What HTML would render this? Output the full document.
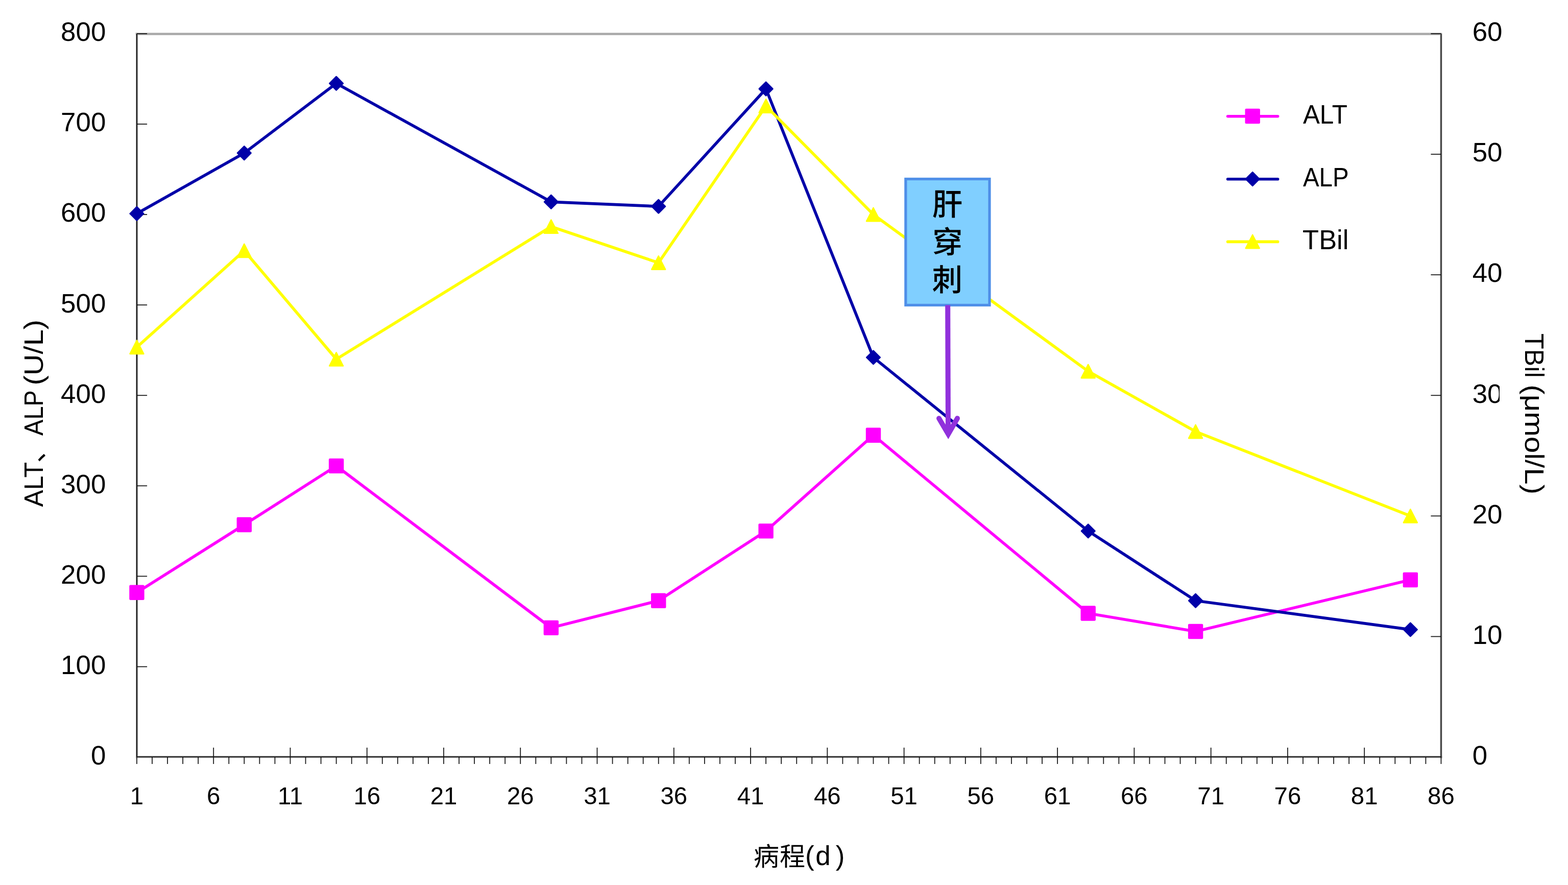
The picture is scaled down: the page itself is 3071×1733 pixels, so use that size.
<!DOCTYPE html>
<html lang="zh-CN">
<head>
<meta charset="utf-8">
<title>ALT、ALP、TBil 病程变化</title>
<style>
html,body{margin:0;padding:0;background:#fff;}
body{width:3071px;height:1733px;overflow:hidden;}
svg{display:block;}
text{font-family:"Liberation Sans","Noto Sans CJK SC",sans-serif;fill:#000;}
</style>
</head>
<body>
<svg width="3071" height="1733" viewBox="0 0 3071 1733">
<defs><clipPath id="clip30" clipPathUnits="userSpaceOnUse"><rect x="-50" y="-60" width="102.46" height="80"/></clipPath><clipPath id="clipR" clipPathUnits="userSpaceOnUse"><rect x="-20" y="-60" width="400" height="70.7"/></clipPath></defs>
<rect x="0" y="0" width="3071" height="1733" fill="#fff"/>
<!-- plot area border and axes -->
<g fill="none" stroke-linecap="square">
<path d="M268.1 66.45V1482.2H2822.4" stroke="#C2C2C2" stroke-width="5"/>
<path d="M268.1 66.45H2822.4V1482.2" stroke="#A9A9A9" stroke-width="4.5" stroke-linejoin="round"/>
</g>
<g stroke="#000" fill="none">
<line x1="268" y1="66.3" x2="268" y2="1483" stroke-width="1.9"/>
<line x1="267.1" y1="1482.1" x2="2823.2" y2="1482.1" stroke-width="1.7"/>
<line x1="2822.5" y1="66.3" x2="2822.5" y2="1483" stroke-width="1.5"/>
</g>
<g stroke="#151515" stroke-width="1.75" fill="none">
<line x1="268.1" y1="1305.5" x2="288.1" y2="1305.5"/>
<line x1="268.1" y1="1128.42" x2="288.1" y2="1128.42"/>
<line x1="268.1" y1="951.34" x2="288.1" y2="951.34"/>
<line x1="268.1" y1="774.26" x2="288.1" y2="774.26"/>
<line x1="268.1" y1="597.18" x2="288.1" y2="597.18"/>
<line x1="268.1" y1="420.1" x2="288.1" y2="420.1"/>
<line x1="268.1" y1="243.02" x2="288.1" y2="243.02"/>
<line x1="268.1" y1="65.94" x2="288.1" y2="65.94"/>
<line x1="2802.4" y1="1246.47" x2="2822.4" y2="1246.47"/>
<line x1="2802.4" y1="1010.37" x2="2822.4" y2="1010.37"/>
<line x1="2802.4" y1="774.26" x2="2822.4" y2="774.26"/>
<line x1="2802.4" y1="538.15" x2="2822.4" y2="538.15"/>
<line x1="2802.4" y1="302.05" x2="2822.4" y2="302.05"/>
<line x1="2802.4" y1="65.94" x2="2822.4" y2="65.94"/>
<line x1="267.95" y1="1482" x2="267.95" y2="1496"/>
<line x1="298" y1="1482" x2="298" y2="1496"/>
<line x1="328.06" y1="1482" x2="328.06" y2="1496"/>
<line x1="358.11" y1="1482" x2="358.11" y2="1496"/>
<line x1="388.16" y1="1482" x2="388.16" y2="1496"/>
<line x1="418.21" y1="1464" x2="418.21" y2="1496"/>
<line x1="448.27" y1="1482" x2="448.27" y2="1496"/>
<line x1="478.32" y1="1482" x2="478.32" y2="1496"/>
<line x1="508.37" y1="1482" x2="508.37" y2="1496"/>
<line x1="538.43" y1="1482" x2="538.43" y2="1496"/>
<line x1="568.48" y1="1464" x2="568.48" y2="1496"/>
<line x1="598.53" y1="1482" x2="598.53" y2="1496"/>
<line x1="628.59" y1="1482" x2="628.59" y2="1496"/>
<line x1="658.64" y1="1482" x2="658.64" y2="1496"/>
<line x1="688.69" y1="1482" x2="688.69" y2="1496"/>
<line x1="718.74" y1="1464" x2="718.74" y2="1496"/>
<line x1="748.8" y1="1482" x2="748.8" y2="1496"/>
<line x1="778.85" y1="1482" x2="778.85" y2="1496"/>
<line x1="808.9" y1="1482" x2="808.9" y2="1496"/>
<line x1="838.96" y1="1482" x2="838.96" y2="1496"/>
<line x1="869.01" y1="1464" x2="869.01" y2="1496"/>
<line x1="899.06" y1="1482" x2="899.06" y2="1496"/>
<line x1="929.11" y1="1482" x2="929.11" y2="1496"/>
<line x1="959.17" y1="1482" x2="959.17" y2="1496"/>
<line x1="989.22" y1="1482" x2="989.22" y2="1496"/>
<line x1="1019.27" y1="1464" x2="1019.27" y2="1496"/>
<line x1="1049.33" y1="1482" x2="1049.33" y2="1496"/>
<line x1="1079.38" y1="1482" x2="1079.38" y2="1496"/>
<line x1="1109.43" y1="1482" x2="1109.43" y2="1496"/>
<line x1="1139.49" y1="1482" x2="1139.49" y2="1496"/>
<line x1="1169.54" y1="1464" x2="1169.54" y2="1496"/>
<line x1="1199.59" y1="1482" x2="1199.59" y2="1496"/>
<line x1="1229.64" y1="1482" x2="1229.64" y2="1496"/>
<line x1="1259.7" y1="1482" x2="1259.7" y2="1496"/>
<line x1="1289.75" y1="1482" x2="1289.75" y2="1496"/>
<line x1="1319.8" y1="1464" x2="1319.8" y2="1496"/>
<line x1="1349.86" y1="1482" x2="1349.86" y2="1496"/>
<line x1="1379.91" y1="1482" x2="1379.91" y2="1496"/>
<line x1="1409.96" y1="1482" x2="1409.96" y2="1496"/>
<line x1="1440.01" y1="1482" x2="1440.01" y2="1496"/>
<line x1="1470.07" y1="1464" x2="1470.07" y2="1496"/>
<line x1="1500.12" y1="1482" x2="1500.12" y2="1496"/>
<line x1="1530.17" y1="1482" x2="1530.17" y2="1496"/>
<line x1="1560.23" y1="1482" x2="1560.23" y2="1496"/>
<line x1="1590.28" y1="1482" x2="1590.28" y2="1496"/>
<line x1="1620.33" y1="1464" x2="1620.33" y2="1496"/>
<line x1="1650.39" y1="1482" x2="1650.39" y2="1496"/>
<line x1="1680.44" y1="1482" x2="1680.44" y2="1496"/>
<line x1="1710.49" y1="1482" x2="1710.49" y2="1496"/>
<line x1="1740.54" y1="1482" x2="1740.54" y2="1496"/>
<line x1="1770.6" y1="1464" x2="1770.6" y2="1496"/>
<line x1="1800.65" y1="1482" x2="1800.65" y2="1496"/>
<line x1="1830.7" y1="1482" x2="1830.7" y2="1496"/>
<line x1="1860.76" y1="1482" x2="1860.76" y2="1496"/>
<line x1="1890.81" y1="1482" x2="1890.81" y2="1496"/>
<line x1="1920.86" y1="1464" x2="1920.86" y2="1496"/>
<line x1="1950.91" y1="1482" x2="1950.91" y2="1496"/>
<line x1="1980.97" y1="1482" x2="1980.97" y2="1496"/>
<line x1="2011.02" y1="1482" x2="2011.02" y2="1496"/>
<line x1="2041.07" y1="1482" x2="2041.07" y2="1496"/>
<line x1="2071.13" y1="1464" x2="2071.13" y2="1496"/>
<line x1="2101.18" y1="1482" x2="2101.18" y2="1496"/>
<line x1="2131.23" y1="1482" x2="2131.23" y2="1496"/>
<line x1="2161.29" y1="1482" x2="2161.29" y2="1496"/>
<line x1="2191.34" y1="1482" x2="2191.34" y2="1496"/>
<line x1="2221.39" y1="1464" x2="2221.39" y2="1496"/>
<line x1="2251.44" y1="1482" x2="2251.44" y2="1496"/>
<line x1="2281.5" y1="1482" x2="2281.5" y2="1496"/>
<line x1="2311.55" y1="1482" x2="2311.55" y2="1496"/>
<line x1="2341.6" y1="1482" x2="2341.6" y2="1496"/>
<line x1="2371.66" y1="1464" x2="2371.66" y2="1496"/>
<line x1="2401.71" y1="1482" x2="2401.71" y2="1496"/>
<line x1="2431.76" y1="1482" x2="2431.76" y2="1496"/>
<line x1="2461.81" y1="1482" x2="2461.81" y2="1496"/>
<line x1="2491.87" y1="1482" x2="2491.87" y2="1496"/>
<line x1="2521.92" y1="1464" x2="2521.92" y2="1496"/>
<line x1="2551.97" y1="1482" x2="2551.97" y2="1496"/>
<line x1="2582.03" y1="1482" x2="2582.03" y2="1496"/>
<line x1="2612.08" y1="1482" x2="2612.08" y2="1496"/>
<line x1="2642.13" y1="1482" x2="2642.13" y2="1496"/>
<line x1="2672.19" y1="1464" x2="2672.19" y2="1496"/>
<line x1="2702.24" y1="1482" x2="2702.24" y2="1496"/>
<line x1="2732.29" y1="1482" x2="2732.29" y2="1496"/>
<line x1="2762.34" y1="1482" x2="2762.34" y2="1496"/>
<line x1="2792.4" y1="1482" x2="2792.4" y2="1496"/>
<line x1="2822.45" y1="1482" x2="2822.45" y2="1496"/>
</g>
<!-- series ALT -->
<polyline fill="none" stroke="#FF00FF" stroke-width="5.7" stroke-linejoin="round" stroke-linecap="round" points="267.95,1160.29 478.32,1027.48 658.64,912.38 1079.38,1229.36 1289.75,1176.23 1500.12,1039.88 1710.49,852.18 2131.23,1201.02 2341.6,1236.44 2762.34,1135.5"/>
<g fill="#FF00FF" stroke="#FF00FF" stroke-linejoin="round">
<rect stroke="none" x="253.25" y="1145.59" width="29.4" height="29.4" rx="2.2" ry="2.2"/>
<rect stroke="none" x="463.62" y="1012.78" width="29.4" height="29.4" rx="2.2" ry="2.2"/>
<rect stroke="none" x="643.94" y="897.68" width="29.4" height="29.4" rx="2.2" ry="2.2"/>
<rect stroke="none" x="1064.68" y="1214.66" width="29.4" height="29.4" rx="2.2" ry="2.2"/>
<rect stroke="none" x="1275.05" y="1161.53" width="29.4" height="29.4" rx="2.2" ry="2.2"/>
<rect stroke="none" x="1485.42" y="1025.18" width="29.4" height="29.4" rx="2.2" ry="2.2"/>
<rect stroke="none" x="1695.79" y="837.48" width="29.4" height="29.4" rx="2.2" ry="2.2"/>
<rect stroke="none" x="2116.53" y="1186.32" width="29.4" height="29.4" rx="2.2" ry="2.2"/>
<rect stroke="none" x="2326.9" y="1221.74" width="29.4" height="29.4" rx="2.2" ry="2.2"/>
<rect stroke="none" x="2747.64" y="1120.8" width="29.4" height="29.4" rx="2.2" ry="2.2"/>
</g>
<!-- series ALP -->
<polyline fill="none" stroke="#0000A8" stroke-width="5.7" stroke-linejoin="round" stroke-linecap="round" points="267.95,418.33 478.32,299.69 658.64,163.33 1079.38,395.31 1289.75,404.16 1500.12,173.96 1710.49,699.89 2131.23,1039.88 2341.6,1176.23 2762.34,1232.9"/>
<g fill="#0000A8" stroke="#0000A8" stroke-linejoin="round">
<path stroke-width="2.6" d="M267.95 405.03L281.25 418.33L267.95 431.63L254.65 418.33Z"/>
<path stroke-width="2.6" d="M478.32 286.39L491.62 299.69L478.32 312.99L465.02 299.69Z"/>
<path stroke-width="2.6" d="M658.64 150.03L671.94 163.33L658.64 176.63L645.34 163.33Z"/>
<path stroke-width="2.6" d="M1079.38 382.01L1092.68 395.31L1079.38 408.61L1066.08 395.31Z"/>
<path stroke-width="2.6" d="M1289.75 390.86L1303.05 404.16L1289.75 417.46L1276.45 404.16Z"/>
<path stroke-width="2.6" d="M1500.12 160.66L1513.42 173.96L1500.12 187.26L1486.82 173.96Z"/>
<path stroke-width="2.6" d="M1710.49 686.59L1723.79 699.89L1710.49 713.19L1697.19 699.89Z"/>
<path stroke-width="2.6" d="M2131.23 1026.58L2144.53 1039.88L2131.23 1053.18L2117.93 1039.88Z"/>
<path stroke-width="2.6" d="M2341.6 1162.93L2354.9 1176.23L2341.6 1189.53L2328.3 1176.23Z"/>
<path stroke-width="2.6" d="M2762.34 1219.6L2775.64 1232.9L2762.34 1246.2L2749.04 1232.9Z"/>
</g>
<!-- series TBil -->
<polyline fill="none" stroke="#FFFF00" stroke-width="5.7" stroke-linejoin="round" stroke-linecap="round" points="267.95,679.82 478.32,490.93 658.64,703.43 1079.38,443.71 1289.75,514.54 1500.12,207.6 1710.49,420.1 2131.23,727.04 2341.6,845.09 2762.34,1010.37"/>
<g fill="#FFFF00" stroke="#FFFF00" stroke-linejoin="round">
<path stroke-width="2.6" d="M267.95 666.69L281.35 692.87L254.55 692.87Z"/>
<path stroke-width="2.6" d="M478.32 477.81L491.72 503.98L464.92 503.98Z"/>
<path stroke-width="2.6" d="M658.64 690.3L672.04 716.48L645.24 716.48Z"/>
<path stroke-width="2.6" d="M1079.38 430.59L1092.78 456.76L1065.98 456.76Z"/>
<path stroke-width="2.6" d="M1289.75 501.42L1303.15 527.59L1276.35 527.59Z"/>
<path stroke-width="2.6" d="M1500.12 194.48L1513.52 220.65L1486.72 220.65Z"/>
<path stroke-width="2.6" d="M1710.49 406.97L1723.89 433.15L1697.09 433.15Z"/>
<path stroke-width="2.6" d="M2131.23 713.91L2144.63 740.09L2117.83 740.09Z"/>
<path stroke-width="2.6" d="M2341.6 831.97L2355 858.14L2328.2 858.14Z"/>
<path stroke-width="2.6" d="M2762.34 997.24L2775.74 1023.42L2748.94 1023.42Z"/>
</g>
<!-- legend -->
<line x1="2404.6" y1="227.75" x2="2502.6" y2="227.75" stroke="#FF00FF" stroke-width="5.6" stroke-linecap="round"/>
<g fill="#FF00FF" stroke="#FF00FF" stroke-linejoin="round"><rect stroke="none" x="2438.5" y="212.75" width="29.4" height="29.4" rx="2.2" ry="2.2"/></g>
<text transform="translate(2551.9 242.2) scale(0.9501 0.9983)" font-size="52">ALT</text>
<line x1="2404.6" y1="350.8" x2="2502.6" y2="350.8" stroke="#0000A8" stroke-width="5.6" stroke-linecap="round"/>
<g fill="#0000A8" stroke="#0000A8" stroke-linejoin="round"><path stroke-width="2.6" d="M2453.2 337.2L2466.5 350.5L2453.2 363.8L2439.9 350.5Z"/></g>
<text transform="translate(2551.9 365) scale(0.9126 0.9983)" font-size="52">ALP</text>
<line x1="2404.6" y1="473.4" x2="2502.6" y2="473.4" stroke="#FFFF00" stroke-width="5.6" stroke-linecap="round"/>
<g fill="#FFFF00" stroke="#FFFF00" stroke-linejoin="round"><path stroke-width="2.6" d="M2453.2 459.98L2466.6 486.15L2439.8 486.15Z"/></g>
<text transform="translate(2551.08 488.3) scale(1.0092 1.0291)" font-size="52">TBil</text>
<!-- annotation -->
<rect x="1773.8" y="350.5" width="164.2" height="247" fill="#80CFFF" stroke="#4F8FE8" stroke-width="5.2"/>
<text font-size="59.5" font-weight="500"><tspan x="1825.8" y="420.9">肝</tspan><tspan x="1825.9" y="494.8">穿</tspan><tspan x="1825.4" y="568.9">刺</tspan></text>
<g stroke="#9131DC" fill="none"><line x1="1856.2" y1="597.6" x2="1857" y2="845" stroke-width="10"/><polyline points="1839,819.3 1857.2,850.1 1875,819.2" stroke-width="10" stroke-linecap="round" stroke-linejoin="miter" stroke-miterlimit="10"/></g>
<!-- tick labels -->
<g font-size="52">
<text transform="translate(177.91 1496.92) scale(1.017 1)">0</text>
<text transform="translate(119.08 1319.84) scale(1.017 1)">100</text>
<text transform="translate(119.08 1142.76) scale(1.017 1)">200</text>
<text transform="translate(119.08 965.68) scale(1.017 1)">300</text>
<text transform="translate(119.08 788.6) scale(1.017 1)">400</text>
<text transform="translate(119.08 611.52) scale(1.017 1)">500</text>
<text transform="translate(119.08 434.44) scale(1.017 1)">600</text>
<text transform="translate(119.08 257.36) scale(1.017 1)">700</text>
<text transform="translate(119.08 80.28) scale(1.017 1)">800</text>
<text transform="translate(2883.65 1496.92) scale(1.017 1)">0</text>
<text transform="translate(2883.65 1260.81) scale(1.017 1)">10</text>
<text transform="translate(2883.65 1024.7) scale(1.017 1)">20</text>
<text clip-path="url(#clip30)" transform="translate(2883.65 788.6) scale(1.017 1)">30</text>
<text transform="translate(2883.65 552.49) scale(1.017 1)">40</text>
<text transform="translate(2883.65 316.38) scale(1.017 1)">50</text>
<text transform="translate(2883.65 80.28) scale(1.017 1)">60</text>
</g>
<g font-size="47.4" text-anchor="middle">
<text x="267.95" y="1574.7">1</text>
<text x="418.21" y="1574.7">6</text>
<text x="568.48" y="1574.7">11</text>
<text x="718.74" y="1574.7">16</text>
<text x="869.01" y="1574.7">21</text>
<text x="1019.27" y="1574.7">26</text>
<text x="1169.54" y="1574.7">31</text>
<text x="1319.8" y="1574.7">36</text>
<text x="1470.07" y="1574.7">41</text>
<text x="1620.33" y="1574.7">46</text>
<text x="1770.6" y="1574.7">51</text>
<text x="1920.86" y="1574.7">56</text>
<text x="2071.13" y="1574.7">61</text>
<text x="2221.39" y="1574.7">66</text>
<text x="2371.66" y="1574.7">71</text>
<text x="2521.92" y="1574.7">76</text>
<text x="2672.19" y="1574.7">81</text>
<text x="2822.45" y="1574.7">86</text>
</g>
<!-- axis titles -->
<text transform="translate(83.6 992.5) rotate(-90)" font-size="51.63" style="white-space:pre"><tspan x="0" textLength="87.55" lengthAdjust="spacingAndGlyphs">ALT</tspan><tspan x="86.17" dy="2.6">、</tspan><tspan x="139.6" textLength="88.67" lengthAdjust="spacingAndGlyphs" dy="-2.6">ALP</tspan><tspan x="228" font-size="20"> </tspan><tspan x="238.09" textLength="128.5" lengthAdjust="spacingAndGlyphs">(U/L)</tspan></text>
<text clip-path="url(#clipR)" transform="translate(2986.8 653.5) rotate(90)" font-size="51.63" style="white-space:pre"><tspan x="-0.79" textLength="86.92" lengthAdjust="spacingAndGlyphs">TBil</tspan><tspan x="88" font-size="20"> </tspan><tspan x="99.77" textLength="214.85" lengthAdjust="spacingAndGlyphs">(μmol/L)</tspan></text>
<text y="1695.2"><tspan font-size="50" x="1476.05 1527.04">病程</tspan><tspan font-size="53" y="1694.4" x="1576.91 1597.27 1636.65">(d)</tspan></text>
</svg>
</body>
</html>
